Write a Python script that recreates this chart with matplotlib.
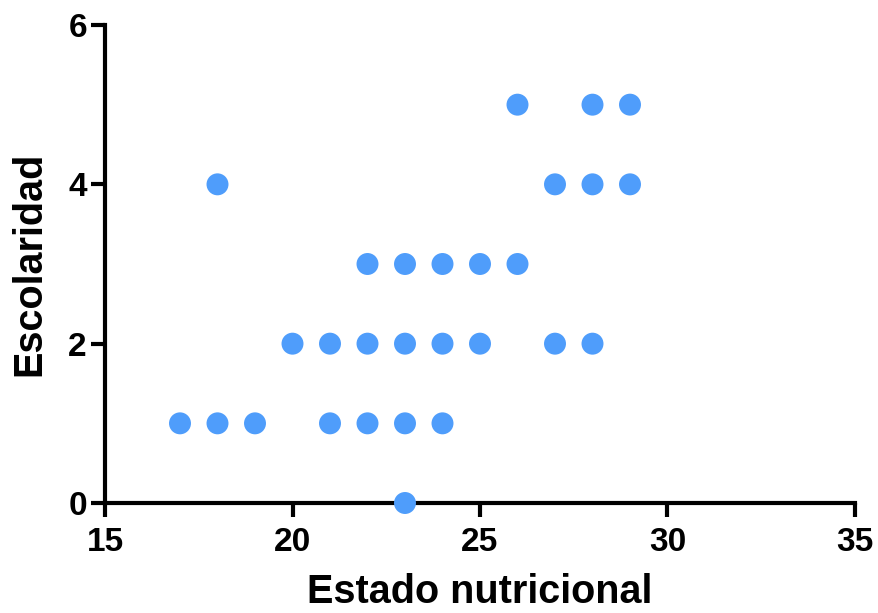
import matplotlib
matplotlib.use("Agg")
import matplotlib.pyplot as plt

estado = [26, 28, 29,
          18, 27, 28, 29,
          22, 23, 24, 25, 26,
          20, 21, 22, 23, 24, 25, 27, 28,
          17, 18, 19, 21, 22, 23, 24,
          23]
escolaridad = [5, 5, 5,
               4, 4, 4, 4,
               3, 3, 3, 3, 3,
               2, 2, 2, 2, 2, 2, 2, 2,
               1, 1, 1, 1, 1, 1, 1,
               0]
xticks = [15, 20, 25, 30, 35]
yticks = [0, 2, 4, 6]

plt.rcParams['font.family'] = ['Liberation Sans', 'DejaVu Sans']
plt.rcParams['font.weight'] = 'bold'

fig = plt.figure(figsize=(8.79, 6.13), dpi=100)
ax = fig.add_axes([105/879, 110/613, 750/879, 478/613])
ax.scatter(estado, escolaridad, s=250, color='#4f9dfb', edgecolors='none', zorder=3, clip_on=False)
ax.set_xlim(15, 35)
ax.set_ylim(0, 6)
ax.set_xticks(xticks)
ax.set_yticks(yticks)
for s in ['top', 'right']:
    ax.spines[s].set_visible(False)
for s in ['left', 'bottom']:
    ax.spines[s].set_linewidth(3)
ax.tick_params(width=3, length=10, labelsize=24)
ax.tick_params(axis='x', pad=7)
ax.tick_params(axis='y', pad=3)
for lab in ax.get_xticklabels() + ax.get_yticklabels():
    lab.set_fontweight('bold')
ax.set_xlabel('Estado nutricional', fontsize=28.5, fontweight='bold', labelpad=11)
ax.set_ylabel('Escolaridad', fontsize=28.5, fontweight='bold', labelpad=14)
fig.savefig('out.png', dpi=100)
